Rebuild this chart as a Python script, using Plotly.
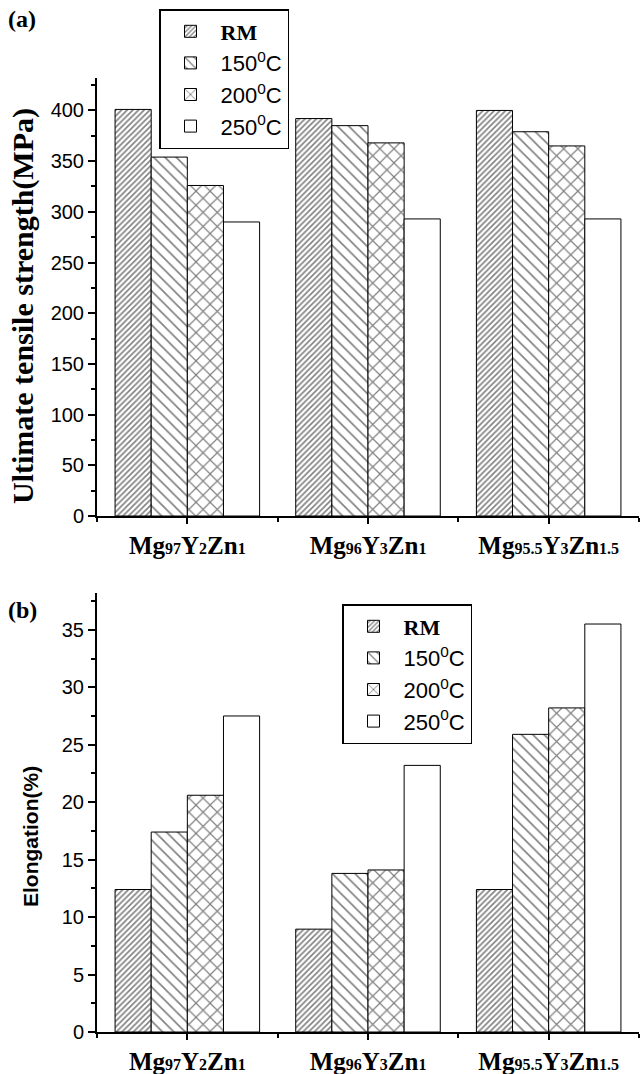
import plotly.graph_objects as go

# ---------------- data ----------------
SUB = '<span style="font-size:16px">{}</span>'
categories = [
    "Mg" + SUB.format("97") + "Y" + SUB.format("2") + "Zn" + SUB.format("1"),
    "Mg" + SUB.format("96") + "Y" + SUB.format("3") + "Zn" + SUB.format("1"),
    "Mg" + SUB.format("95.5") + "Y" + SUB.format("3") + "Zn" + SUB.format("1.5"),
]
cat_pos = [0, 1, 2]
series_names = [
    '<span style="font-family:Liberation Serif;font-weight:bold">RM</span>',
    "150<sup>0</sup>C",
    "200<sup>0</sup>C",
    "250<sup>0</sup>C",
]
uts_RM = [401, 392, 400]
uts_150 = [354, 385, 379]
uts_200 = [326, 368, 365]
uts_250 = [290, 293, 293]

elong_RM = [12.4, 8.95, 12.4]
elong_150 = [17.4, 13.8, 25.9]
elong_200 = [20.6, 14.1, 28.2]
elong_250 = [27.5, 23.2, 35.5]

uts_ticks = [0, 50, 100, 150, 200, 250, 300, 350, 400]
elong_ticks = [0, 5, 10, 15, 20, 25, 30, 35]

# ---------------- styles ----------------
patterns = [
    dict(shape="/", size=4, solidity=0.4, fgcolor="black", bgcolor="white"),
    dict(shape="\\", size=8, solidity=0.2, fgcolor="black", bgcolor="white"),
    dict(shape="x", size=10, solidity=0.22, fgcolor="black", bgcolor="white"),
    dict(shape="", fgcolor="black", bgcolor="white"),
]

W, H = 640, 1074
def fx(px):
    return px / W
def fy(py):
    return 1 - py / H

fig = go.Figure()
uts_series = [uts_RM, uts_150, uts_200, uts_250]
el_series = [elong_RM, elong_150, elong_200, elong_250]
for name, vals, pat in zip(series_names, uts_series, patterns):
    fig.add_trace(go.Bar(
        x=cat_pos, y=vals, name=name, xaxis="x", yaxis="y", legend="legend",
        marker=dict(color="white", pattern=pat, line=dict(color="black", width=1)),
    ))
for name, vals, pat in zip(series_names, el_series, patterns):
    fig.add_trace(go.Bar(
        x=cat_pos, y=vals, name=name, xaxis="x2", yaxis="y2", legend="legend2",
        marker=dict(color="white", pattern=pat, line=dict(color="black", width=1)),
    ))

sans = "Arial, Liberation Sans, sans-serif"
serif = "Liberation Serif, Times New Roman, serif"

xcommon = dict(
    range=[-0.5, 2.5], tickmode="array", tickvals=cat_pos, ticktext=categories,
    ticks="outside", ticklen=6, tickwidth=2, tickcolor="black",
    showline=True, linewidth=2, linecolor="black", showgrid=False, zeroline=False,
    tickfont=dict(family=serif, size=25, color="black", weight="bold"),
    minor=dict(tickmode="array", tickvals=[-0.5, 0.5, 1.5, 2.5], ticks="outside",
               ticklen=4, tickwidth=1.5, tickcolor="black", showgrid=False),
    automargin=False, fixedrange=True,
)
ycommon = dict(
    ticks="outside", ticklen=7, tickwidth=2, tickcolor="black",
    showline=True, linewidth=2, linecolor="black", showgrid=False, zeroline=False,
    tickfont=dict(family=sans, size=20, color="black"),
    automargin=False, fixedrange=True,
)

legend_common = dict(
    xanchor="left", yanchor="top", bgcolor="white", bordercolor="black",
    borderwidth=1.5, font=dict(family=sans, size=22, color="black"),
    itemwidth=50, traceorder="normal",
)

fig.update_layout(
    width=W, height=H, margin=dict(l=0, r=0, t=0, b=0),
    paper_bgcolor="white", plot_bgcolor="white",
    barmode="group", bargap=0.2, bargroupgap=0,
    xaxis=dict(domain=[fx(97), fx(639)], anchor="y", **xcommon),
    yaxis=dict(domain=[fy(516), fy(78)], anchor="x", range=[0, 432],
               tickmode="array", tickvals=uts_ticks,
               minor=dict(dtick=25, tick0=0, ticks="outside", ticklen=4, tickwidth=1.5,
                          tickcolor="black", showgrid=False),
               **ycommon),
    xaxis2=dict(domain=[fx(97), fx(639)], anchor="y2", **xcommon),
    yaxis2=dict(domain=[fy(1032), fy(593)], anchor="x2", range=[0, 38.2],
                tickmode="array", tickvals=elong_ticks,
                minor=dict(dtick=2.5, tick0=0, ticks="outside", ticklen=4, tickwidth=1.5,
                           tickcolor="black", showgrid=False),
                **ycommon),
    legend=dict(x=fx(159), y=fy(9), **legend_common),
    legend2=dict(x=fx(342), y=fy(604), **legend_common),
    showlegend=True,
    annotations=[
        dict(text="<b>(a)</b>", x=fx(22), y=fy(19), xref="paper", yref="paper",
             xanchor="center", yanchor="middle",
             showarrow=False, font=dict(family=serif, size=24, color="black")),
        dict(text="<b>(b)</b>", x=fx(22), y=fy(610), xref="paper", yref="paper",
             xanchor="center", yanchor="middle",
             showarrow=False, font=dict(family=serif, size=24, color="black")),
        dict(text="<b>Ultimate tensile strength(MPa)</b>", x=fx(23), y=fy(306),
             xref="paper", yref="paper", textangle=-90, showarrow=False,
             xanchor="center", yanchor="middle",
             font=dict(family=serif, size=30, color="black")),
        dict(text="<b>Elongation(%)</b>", x=fx(30), y=fy(837),
             xref="paper", yref="paper", textangle=-90, showarrow=False,
             xanchor="center", yanchor="middle",
             font=dict(family=sans, size=21, color="black")),
    ],
)

fig.write_html("out.html")
